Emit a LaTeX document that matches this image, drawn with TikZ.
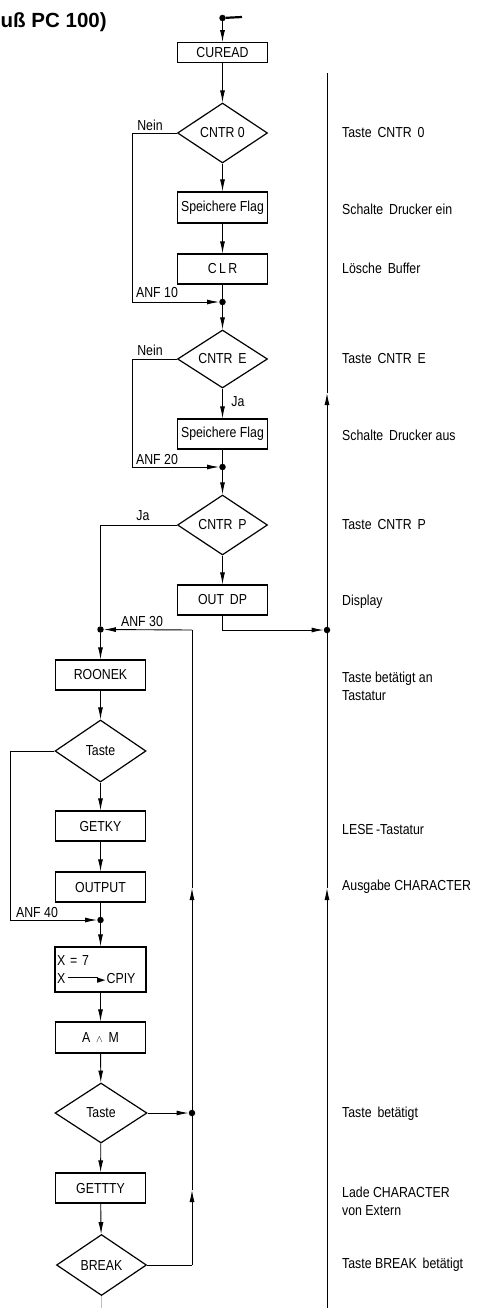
\documentclass[tikz,border=0pt]{standalone}
\usepackage{fontspec}
\setmainfont{Liberation Sans}
\newfontfamily\din[FakeStretch=0.85]{Liberation Sans}
\newfontfamily\symfont{DejaVu Sans}
\usetikzlibrary{shapes.geometric,arrows.meta}
\begin{document}
\begin{tikzpicture}[x=1pt,y=-1pt,
  txt/.style={font=\din\fontsize{14.5}{18}\selectfont},
  stepbox/.style={draw, line width=1.2pt, minimum width=90pt, minimum height=30pt, inner sep=0pt, txt},
  dia/.style={diamond, draw, line width=1.2pt, minimum width=90pt, minimum height=60pt, inner sep=0pt, aspect=1.5, txt},
  dot/.style={circle, fill, inner sep=0pt, minimum size=6.5pt},
  conn/.style={line width=0.9pt},
  arr/.style={conn, -{Latex[length=12pt,width=5pt]}},
  lbl/.style={txt, inner sep=0pt},
  side/.style={txt, inner sep=0pt, anchor=west, align=left}]
\useasboundingbox (0,0) rectangle (477,1308);

% title
\node[anchor=west, inner sep=0pt, font=\bfseries\fontsize{20.5}{24}\selectfont] (title) at (0.5,22) {uß PC 100)};

% start
\node[dot] (s) at (222.5,18) {};
\coordinate (st) at (242,17);
\draw[line width=2.2pt] (s) -- (st);

% main column
\node[stepbox, minimum height=20pt] (cu) at (222.5,52.7) {CUREAD};
\node[dia] (d1) at (222.5,133) {CNTR 0};
\node[stepbox, minimum height=31pt] (sf1) at (222.5,207.5) {Speichere Flag};
\node[stepbox] (clr) at (222.5,269) {C\,L\,R};
\node[dot] (j1) at (222.5,302) {};
\node[dia, minimum height=58pt] (d2) at (222.5,359) {CNTR\, E};
\node[stepbox] (sf2) at (222.5,434) {Speichere Flag};
\node[dot] (j2) at (222.5,467) {};
\node[dia] (d3) at (222.5,525) {CNTR\, P};
\node[stepbox] (out) at (222.5,600) {OUT\, DP};

% left column
\node[dot] (j4) at (100.5,629.5) {};
\node[stepbox] (roo) at (100.5,675) {ROONEK};
\node[dia, minimum width=91pt, minimum height=62pt] (d4) at (100.5,751) {Taste};
\node[stepbox] (gk) at (100.5,826) {GETKY};
\node[stepbox] (outp) at (100.5,887) {OUTPUT};
\node[dot] (j5) at (100.5,920) {};
\node[stepbox, minimum height=45pt, align=left, text width=87pt, inner xsep=2pt] (xb) at (100.5,969.5)
  {X = 7\\X\kern3pt\raisebox{0.36em}{\rule{30pt}{0.8pt}}\kern-1pt{\symfont\fontsize{11}{11}\selectfont ►}\kern1pt CPIY};
\node[stepbox, minimum height=31pt] (am) at (100.5,1037.5) {A\, $\scriptstyle\wedge$\, M};
\node[dia, minimum width=92pt] (d5) at (101,1113) {Taste};
\node[stepbox] (gt) at (100.5,1188) {GETTTY};
\node[dia, minimum height=61pt] (d6) at (101.5,1265) {BREAK};
\coordinate (c7) at (101.5,1308);

% junctions on the vertical return lines
\node[dot] (j3) at (327,630) {};
\node[dot] (j6) at (192,1113) {};

% main flow arrows
\draw[arr] (s) -- (cu);
\draw[arr] (cu) -- (d1);
\draw[arr] (d1) -- (sf1);
\draw[arr] (sf1) -- (clr);
\draw[conn] (clr) -- (j1);
\draw[arr] (j1) -- (d2);
\draw[arr] (d2) -- (sf2);
\draw[conn] (sf2) -- (j2);
\draw[arr] (j2) -- (d3);
\draw[arr] (d3) -- (out);
\draw[arr] (out.south) |- (j3);

\draw[arr] (j4) -- (roo);
\draw[arr] (roo) -- (d4);
\draw[arr] (d4) -- (gk);
\draw[arr] (gk) -- (outp);
\draw[conn] (outp) -- (j5);
\draw[arr] (j5) -- (xb);
\draw[arr] (xb) -- (am);
\draw[arr] (am) -- (d5);
\draw[arr] (d5) -- (gt);
\draw[arr] (gt) -- (d6);
\draw[conn, gray!50, line width=0.6pt] (d6.south) -- (c7);

% bypass loops
\coordinate (l1a) at (132,133);
\coordinate (l1b) at (132,302);
\draw[conn] (d1.west) -- (l1a) -- (l1b);
\draw[arr] (l1b) -- (j1);
\coordinate (l2a) at (132,359);
\coordinate (l2b) at (132,467);
\draw[conn] (d2.west) -- (l2a) -- (l2b);
\draw[arr] (l2b) -- (j2);
\coordinate (l3a) at (100.5,525);
\draw[conn] (d3.west) -- (l3a) -- (j4);
\coordinate (l4a) at (10,751);
\coordinate (l4b) at (10,920);
\draw[conn] (d4.west) -- (l4a) -- (l4b);
\draw[arr] (l4b) -- (j5);
\draw[arr] (d5.east) -- (j6);

% return line x=192
\coordinate (c6) at (192,1265);
\coordinate (m1) at (192,1190);
\coordinate (m2) at (192,888);
\coordinate (c3) at (192,630);
\draw[conn] (d6.east) -- (c6);
\draw[arr] (c6) -- (m1);
\draw[conn] (m1) -- (j6);
\draw[arr] (j6) -- (m2);
\draw[conn] (m2) -- (c3);
\draw[arr] (c3) -- (j4);

% right line x=327
\coordinate (rtop) at (327,73);
\coordinate (rbot) at (327,1308);
\coordinate (ra1) at (327,393);
\coordinate (ra2) at (327,888);
\draw[arr] (rbot) -- (ra2);
\draw[conn] (ra2) -- (j3);
\draw[arr] (j3) -- (ra1);
\draw[conn] (ra1) -- (rtop);

% branch labels
\node[lbl] (n1) at (150,125) {Nein};
\node[lbl] (a10) at (157,293) {ANF 10};
\node[lbl] (n2) at (150,350) {Nein};
\node[lbl] (ja1) at (238,402) {Ja};
\node[lbl] (a20) at (157,460) {ANF 20};
\node[lbl] (ja2) at (143,516) {Ja};
\node[lbl] (a30) at (142,622) {ANF 30};
\node[lbl] (a40) at (37,912) {ANF 40};

% side comments
\node[side] (t1) at (342,133) {Taste\, CNTR\, 0};
\node[side] (t2) at (342,209) {Schalte\, Drucker ein};
\node[side] (t3) at (342,268) {Lösche\, Buffer};
\node[side] (t4) at (342,359) {Taste\, CNTR\, E};
\node[side] (t5) at (342,435) {Schalte\, Drucker aus};
\node[side] (t6) at (342,525) {Taste\, CNTR\, P};
\node[side] (t7) at (342,602) {Display};
\node[side] (t8) at (342,686) {Taste betätigt an\\Tastatur};
\node[side] (t9) at (342,829) {LESE\,-Tastatur};
\node[side] (t10) at (342,887) {Ausgabe CHARACTER};
\node[side] (t11) at (342,1114) {Taste\, betätigt};
\node[side] (t12) at (342,1201) {Lade CHARACTER\\von Extern};
\node[side] (t13) at (342,1265) {Taste BREAK\, betätigt};
\end{tikzpicture}
\end{document}
